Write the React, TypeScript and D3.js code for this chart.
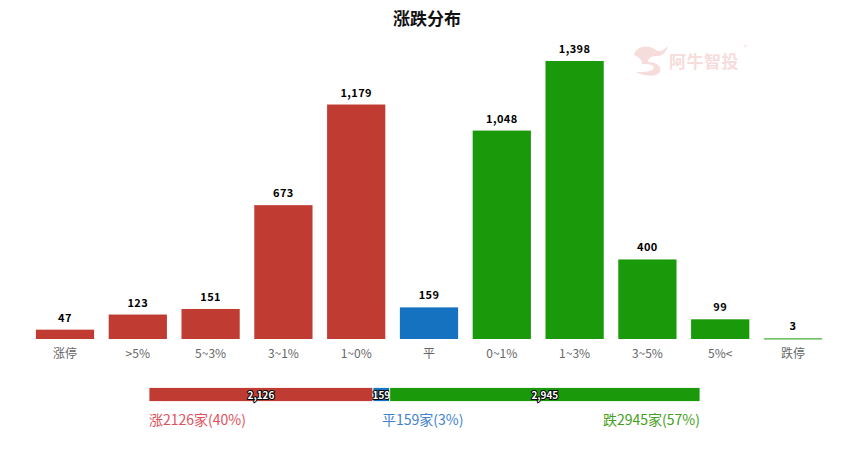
import React from "react";
import * as d3 from "d3";

const categories = ["涨停", ">5%", "5~3%", "3~1%", "1~0%", "平", "0~1%", "1~3%", "3~5%", "5%<", "跌停"];
const values = [47, 123, 151, 673, 1179, 159, 1048, 1398, 400, 99, 3];
const kinds = ["up", "up", "up", "up", "up", "flat", "down", "down", "down", "down", "down"];
const summaryKeys = ["up", "flat", "down"];
const summaryValues = [2126, 159, 2945];
const summaryLabels = ["涨2126家(40%)", "平159家(3%)", "跌2945家(57%)"];

const W = 852, H = 450;
const barColor: Record<string, string> = { up: "#c03c33", flat: "#1572c0", down: "#1a9a0a" };
const legendColor: Record<string, string> = { up: "#e2505c", flat: "#3f82d2", down: "#44a020" };
const FONT = "'Noto Sans CJK SC', 'Noto Sans', sans-serif";

export default function App() {
  const x = d3.scaleBand<string>().domain(categories).range([28.6, 829.4]).paddingInner(0.2).paddingOuter(0.1);
  const y = d3.scaleLinear().domain([0, 1600]).range([339, 20.8]);
  const fmt = d3.format(",");

  const total = d3.sum(summaryValues);
  const sx = d3.scaleLinear().domain([0, total]).range([149, 700]);
  const cum = d3.cumsum(summaryValues);
  const starts = summaryValues.map((v, i) => cum[i] - v);

  return (
    <svg width={W} height={H} style={{ display: "block", position: "absolute", left: 0, top: 0 }} fontFamily={FONT}>
      <rect width={W} height={H} fill="#fff" />
      <text x={427} y={25} textAnchor="middle" fontSize={17} fontWeight="bold" fill="#111">涨跌分布</text>

      {/* watermark */}
      <g fill="#f7dcdc" stroke="none">
        <path d="M634,55 C636,46 648,44 656,50 C660,53 664,50 668,46 C666,54 660,57 656,56 C652,56 648,58 648,62 C656,62 662,66 660,72 C656,78 644,76 636,72 C644,72 652,72 654,68 C654,64 646,64 642,64 C642,60 640,58 634,55 Z" />
        <text x={669} y={68} fontSize={17} fontWeight="bold" letterSpacing={0.5}>阿牛智投</text>
        <text x={744} y={50} fontSize={7}>®</text>
      </g>

      {categories.map((c, i) => (
        <g key={c}>
          <rect x={x(c)} y={y(values[i])} width={x.bandwidth()} height={Math.max(1, 339 - y(values[i]))} fill={barColor[kinds[i]]} />
          <text x={x(c)! + x.bandwidth() / 2} y={y(values[i]) - 8} textAnchor="middle" fontSize={11} fontWeight="bold" letterSpacing={0.4} fill="#000" stroke="#fff" strokeWidth={2} paintOrder="stroke">{fmt(values[i])}</text>
          <text x={x(c)! + x.bandwidth() / 2} y={358} textAnchor="middle" fontSize={12} fill="#666">{c}</text>
        </g>
      ))}

      {summaryKeys.map((k, i) => (
        <g key={k}>
          <rect x={sx(starts[i])} y={387.5} width={sx(cum[i]) - sx(starts[i])} height={14} fill={barColor[k]} stroke="#fff" strokeWidth={0.8} />
          <text x={(sx(starts[i]) + sx(cum[i])) / 2} y={398.5} textAnchor="middle" fontSize={10} fontWeight="bold" fill="#fff" stroke="#000" strokeWidth={2} paintOrder="stroke">{fmt(summaryValues[i])}</text>
        </g>
      ))}
      <text x={149} y={425} fontSize={14} fill={legendColor.up}>{summaryLabels[0]}</text>
      <text x={382} y={425} fontSize={14} fill={legendColor.flat}>{summaryLabels[1]}</text>
      <text x={700} y={425} textAnchor="end" fontSize={14} fill={legendColor.down}>{summaryLabels[2]}</text>
    </svg>
  );
}
